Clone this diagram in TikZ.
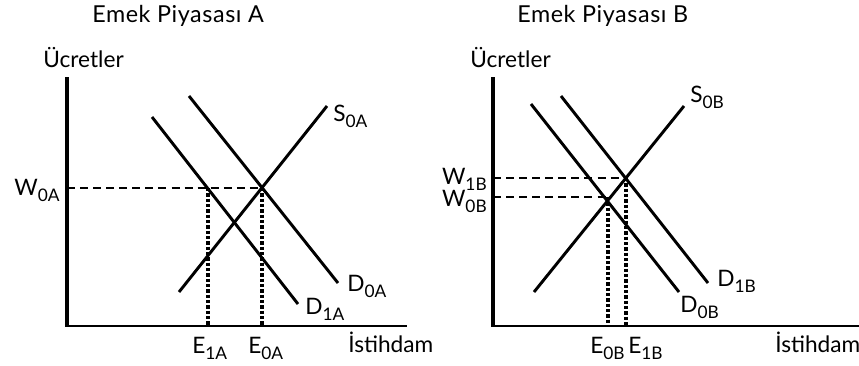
\documentclass[tikz,border=0pt]{standalone}
\usepackage{fontspec}
\setmainfont{Lato}
\usetikzlibrary{positioning}
\newcommand{\lsub}[1]{\raisebox{-4.5pt}{\fontsize{13}{14}\selectfont #1}}

\begin{document}
\begin{tikzpicture}[x=0.75pt, y=-0.75pt,
    curve/.style={line width=2.2pt},
    yaxis/.style={line width=2.6pt},
    xaxis/.style={line width=1.3pt},
    guide/.style={line width=0.8pt, dash pattern=on 6pt off 3.8pt},
    drop/.style={line width=2.6pt, dash pattern=on 2.4pt off 1.6pt},
    lbl/.style={anchor=base west, inner sep=0pt, font=\fontsize{17}{19}\selectfont},
    ttl/.style={anchor=base west, inner sep=0pt,
                font=\fontsize{17.5}{19}\selectfont\addfontfeatures{LetterSpace=2.5}}]
\useasboundingbox (0,0) rectangle (859,365);

% Market A
\node[ttl] (titleA) at (92,22) {Emek Piyasası A};
\node[lbl] (ucrA) at (43,67) {Ücretler};
\coordinate (topA) at (67,77);
\coordinate (oA) at (67,326);
\coordinate (endA) at (407,326);
\draw[yaxis] (topA) -- (oA);
\draw[xaxis] ([xshift=-1.3pt]oA) -- (endA);

\coordinate (s0a) at (179,292);
\coordinate (s0b) at (327,106);
\coordinate (d0a) at (189,96);
\coordinate (d0b) at (338,283);
\coordinate (d1a) at (152,117);
\coordinate (d1b) at (298,304);
\coordinate (eqA) at (262,188);
\coordinate (eqA1) at (208,188);

\draw[guide] (oA |- eqA) -- (eqA);
\draw[drop] (eqA1) -- (eqA1 |- oA);
\draw[drop] (eqA) -- (eqA |- oA);
\draw[curve] (s0a) -- (s0b);
\draw[curve] (d0a) -- (d0b);
\draw[curve] (d1a) -- (d1b);

\node[lbl, anchor=base east] (wA) at (60,195) {W\lsub{0A}};
\node[lbl] (sA) at (333,121) {S\lsub{0A}};
\node[lbl] (dA0) at (347,291) {D\lsub{0A}};
\node[lbl] (dA1) at (305,314) {D\lsub{1A}};
\node[lbl] (eA1) at (192,353) {E\lsub{1A}};
\node[lbl] (eA0) at (248,353) {E\lsub{0A}};
\node[lbl] (istA) at (348,352) {İstihdam};

% Market B
\node[ttl] (titleB) at (517,22) {Emek Piyasası B};
\node[lbl] (ucrB) at (470,67) {Ücretler};
\coordinate (topB) at (493,77);
\coordinate (oB) at (493,326);
\coordinate (endB) at (859,326);
\draw[yaxis] (topB) -- (oB);
\draw[xaxis] ([xshift=-1.3pt]oB) -- (endB);

\coordinate (s0c) at (534,292);
\coordinate (s0d) at (684,106);
\coordinate (d0c) at (531,104);
\coordinate (d0d) at (679,292);
\coordinate (d1c) at (561,96);
\coordinate (d1d) at (708,283);
\coordinate (eqB0) at (608,197);
\coordinate (eqB1) at (626,178);

\draw[guide] (oB |- eqB1) -- (eqB1);
\draw[guide] (oB |- eqB0) -- (eqB0);
\draw[drop] (eqB0) -- (eqB0 |- oB);
\draw[drop] (eqB1) -- (eqB1 |- oB);
\draw[curve] (s0c) -- (s0d);
\draw[curve] (d0c) -- (d0d);
\draw[curve] (d1c) -- (d1d);

\node[lbl, anchor=base east] (wB1) at (487,184) {W\lsub{1B}};
\node[lbl, anchor=base east] (wB0) at (487,206) {W\lsub{0B}};
\node[lbl] (sB) at (690,102) {S\lsub{0B}};
\node[lbl] (dB1) at (717,286) {D\lsub{1B}};
\node[lbl] (dB0) at (680,312) {D\lsub{0B}};
\node[lbl] (eB0) at (590,353) {E\lsub{0B}};
\node[lbl] (eB1) at (628,353) {E\lsub{1B}};
\node[lbl] (istB) at (775,352) {İstihdam};
\end{tikzpicture}
\end{document}
